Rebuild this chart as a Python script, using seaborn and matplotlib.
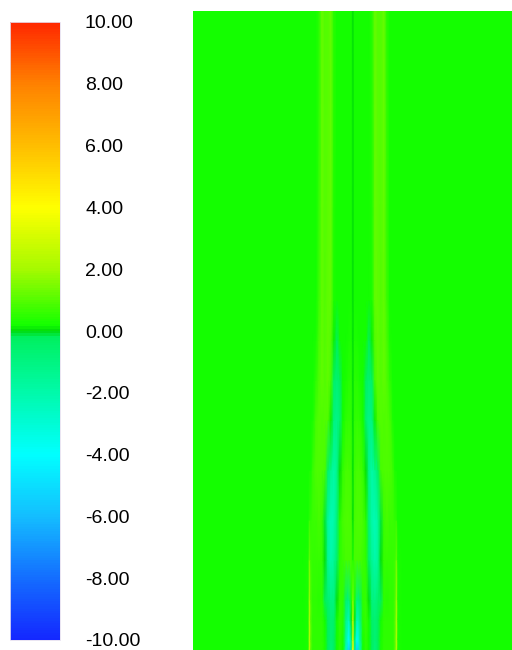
import numpy as np
import matplotlib
matplotlib.use("Agg")
import matplotlib.pyplot as plt
from matplotlib.colors import LinearSegmentedColormap, Normalize
import seaborn as sns

# ---- data -------------------------------------------------------------
# colour-bar ticks
tick_values = [-10, -8, -6, -4, -2, 0, 2, 4, 6, 8, 10]
tick_labels = [f"{v:.2f}" for v in tick_values]

# half-domain node positions (distance from symmetry axis, px-like units)
x_nodes = [0, 1.5, 4, 7, 10, 13, 16, 19, 22, 25, 28, 31, 34, 37, 40, 42, 43.5, 45, 50, 160]
# heights of the sampled rows (from bottom)
z_nodes = [0, 10, 30, 50, 90, 130, 180, 230, 270, 310, 350, 639]

row_z0   = [4.0, -1.0, -5.5, -2.2, 0.2, 0.5, 0.2, -0.3, -0.8, -0.2, 0.3, 0.5, 0.5, 0.5, 0.5, 1.0, 2.6, 0.3, 0.2, 0.2]
row_z10  = [3.2, -0.5, -4.0, -1.8, 0.3, 0.5, 0.2, -0.3, -0.7, -0.2, 0.3, 0.5, 0.5, 0.5, 0.5, 1.0, 2.6, 0.3, 0.2, 0.2]
row_z30  = [2.5, 0.0, -2.4, -1.2, 0.4, 0.6, 0.2, -0.4, -0.7, -0.3, 0.2, 0.5, 0.5, 0.5, 0.5, 0.9, 2.4, 0.3, 0.2, 0.2]
row_z50  = [1.5, 0.3, -1.0, -0.6, 0.5, 0.6, 0.0, -0.9, -1.0, -0.5, -0.3, 0.5, 0.4, 0.5, 0.5, 0.8, 2.1, 0.3, 0.2, 0.2]
row_z90  = [0.3, 0.8, 0.8, 0.8, 0.7, 0.5, -0.4, -1.5, -2.0, -1.5, 0.0, 0.6, 0.6, 0.6, 0.6, 0.7, 1.4, 0.3, 0.2, 0.2]
row_z130 = [0.0, 0.8, 0.9, 0.9, 0.8, 0.4, -0.8, -2.0, -2.3, -1.7, -0.1, 0.7, 0.8, 0.7, 0.7, 0.6, 0.5, 0.2, 0.2, 0.2]
row_z180 = [0.0, 0.7, 0.8, 0.8, 0.6, 0.0, -1.2, -1.9, -1.4, -0.4, 0.8, 0.9, 0.9, 0.9, 0.7, 0.3, 0.2, 0.2, 0.2, 0.2]
row_z230 = [0.0, 0.5, 0.6, 0.5, 0.2, -0.7, -1.2, -1.0, 0.1, 0.9, 1.0, 0.9, 1.0, 0.8, 0.3, 0.2, 0.2, 0.2, 0.2, 0.2]
row_z270 = [0.0, 0.4, 0.4, 0.3, 0.2, -0.3, -0.7, -0.4, 0.8, 1.1, 1.0, 1.1, 0.9, 0.5, 0.2, 0.2, 0.2, 0.2, 0.2, 0.2]
row_z310 = [0.0, 0.3, 0.3, 0.2, 0.2, 0.2, -0.2, 0.1, 1.0, 1.1, 1.0, 1.1, 0.8, 0.3, 0.2, 0.2, 0.2, 0.2, 0.2, 0.2]
row_z350 = [0.0, 0.2, 0.2, 0.2, 0.2, 0.2, 0.2, 0.3, 1.1, 1.1, 1.0, 1.1, 0.7, 0.2, 0.2, 0.2, 0.2, 0.2, 0.2, 0.2]
row_z639 = [0.0, 0.2, 0.2, 0.2, 0.2, 0.2, 0.2, 0.4, 1.2, 1.0, 1.0, 1.2, 0.4, 0.2, 0.2, 0.2, 0.2, 0.2, 0.2, 0.2]

half_field = [row_z0, row_z10, row_z30, row_z50, row_z90, row_z130,
              row_z180, row_z230, row_z270, row_z310, row_z350, row_z639]

# ---- build mirrored (symmetric) mesh ----------------------------------
xh = np.array(x_nodes, dtype=float)
x_full = np.concatenate([-xh[::-1], xh[1:]])
H = np.array(half_field, dtype=float)
C = np.concatenate([H[:, ::-1], H[:, 1:]], axis=1)
X, Z = np.meshgrid(x_full, np.array(z_nodes, dtype=float))

# ---- colour map (blue - cyan - green - yellow - red) -----------------
def rgb(r, g, b):
    return (r / 255, g / 255, b / 255)

cmap = LinearSegmentedColormap.from_list("fem", [
    (0.00, rgb(20, 40, 255)),
    (0.10, rgb(20, 110, 255)),
    (0.20, rgb(20, 190, 255)),
    (0.30, rgb(0, 255, 255)),
    (0.40, rgb(0, 250, 170)),
    (0.49, rgb(0, 240, 95)),
    (0.50, rgb(0, 218, 10)),
    (0.51, rgb(20, 255, 0)),
    (0.60, rgb(165, 250, 0)),
    (0.70, rgb(255, 255, 0)),
    (0.80, rgb(255, 190, 0)),
    (0.90, rgb(255, 130, 0)),
    (1.00, rgb(255, 40, 0)),
], N=256)
norm = Normalize(vmin=-10, vmax=10)

# ---- figure ----------------------------------------------------------
sns.set_theme(style="white")
plt.rcParams["font.family"] = ["Liberation Sans", "DejaVu Sans"]

W, Hpx = 512, 650
fig = plt.figure(figsize=(W / 100, Hpx / 100), dpi=100)
fig.patch.set_facecolor("white")

ax = fig.add_axes([193 / W, 0.0, (W - 193) / W, (Hpx - 11) / Hpx])
mesh = ax.pcolormesh(X, Z, C, shading="gouraud", cmap=cmap, norm=norm)
ax.set_xlim(-160, 159)
ax.set_ylim(0, 639)
ax.set_axis_off()

cax = fig.add_axes([10 / W, (Hpx - 640) / Hpx, 50 / W, 618 / Hpx])
cb = fig.colorbar(mesh, cax=cax, orientation="vertical")
cb.set_ticks(tick_values)
cb.set_ticklabels(tick_labels)
cb.outline.set_edgecolor("#e6e0f0")
cb.outline.set_linewidth(0.6)
cax.tick_params(length=0, pad=18, labelsize=14, colors="black")

fig.savefig("out.png", dpi=100, facecolor="white")
